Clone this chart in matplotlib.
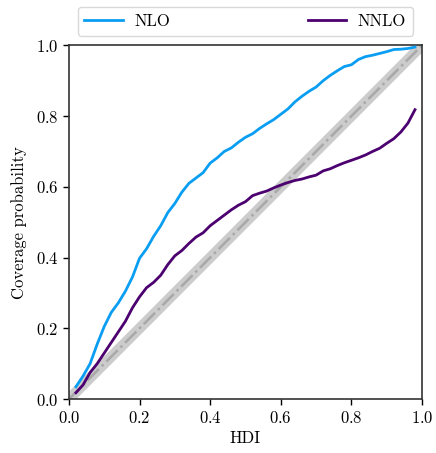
import numpy as np
import matplotlib
matplotlib.use("Agg")
import matplotlib.pyplot as plt

plt.rcParams['font.family'] = 'serif'
plt.rcParams['font.serif'] = ['cmr10', 'DejaVu Serif']
plt.rcParams['mathtext.fontset'] = 'cm'
plt.rcParams['axes.formatter.use_mathtext'] = True

hdi = [0.02, 0.04, 0.06, 0.08, 0.10, 0.12, 0.14, 0.16, 0.18, 0.20,
       0.22, 0.24, 0.26, 0.28, 0.30, 0.32, 0.34, 0.36, 0.38, 0.40,
       0.42, 0.44, 0.46, 0.48, 0.50, 0.52, 0.54, 0.56, 0.58, 0.60,
       0.62, 0.64, 0.66, 0.68, 0.70, 0.72, 0.74, 0.76, 0.78, 0.80,
       0.82, 0.84, 0.86, 0.88, 0.90, 0.92, 0.94, 0.96, 0.98]

nlo = [0.035, 0.065, 0.10, 0.155, 0.205, 0.245, 0.272, 0.305, 0.345, 0.398,
       0.425, 0.46, 0.49, 0.527, 0.553, 0.585, 0.61, 0.625, 0.64, 0.667,
       0.682, 0.70, 0.71, 0.726, 0.74, 0.75, 0.765, 0.778, 0.79, 0.805,
       0.82, 0.84, 0.856, 0.87, 0.882, 0.90, 0.915, 0.928, 0.94, 0.945,
       0.96, 0.968, 0.972, 0.977, 0.982, 0.988, 0.989, 0.991, 0.995]

nnlo = [0.018, 0.04, 0.075, 0.10, 0.13, 0.16, 0.19, 0.22, 0.258, 0.289,
        0.315, 0.33, 0.35, 0.38, 0.405, 0.42, 0.44, 0.458, 0.47, 0.49,
        0.505, 0.52, 0.535, 0.548, 0.558, 0.575, 0.582, 0.588, 0.597, 0.605,
        0.612, 0.618, 0.622, 0.628, 0.633, 0.645, 0.651, 0.66, 0.668, 0.675,
        0.682, 0.69, 0.70, 0.709, 0.723, 0.736, 0.755, 0.78, 0.818]

diag = [0.0, 1.0]

fig = plt.figure(figsize=(4.36, 4.53), dpi=100)
ax = fig.add_axes([0.158, 0.119, 0.81, 0.781])

ax.plot(diag, diag, color='#cccccc', lw=7.6, solid_capstyle='butt', zorder=1)
ax.plot(diag, diag, color='#a8a8a8', lw=1.8, ls='-.', zorder=2)
ax.plot(hdi, nlo, color='#0a9ef2', lw=2.0, label='NLO', zorder=3)
ax.plot(hdi, nnlo, color='#4c0070', lw=2.0, label='NNLO', zorder=3)

ax.set_xlim(0, 1)
ax.set_ylim(0, 1)
ax.set_xticks([0, 0.2, 0.4, 0.6, 0.8, 1.0])
ax.set_yticks([0, 0.2, 0.4, 0.6, 0.8, 1.0])
ax.tick_params(labelsize=12, direction='out', length=4, width=1)
for s in ax.spines.values():
    s.set_color('#333333')
    s.set_linewidth(1.2)
ax.set_xlabel('HDI', fontsize=12)
ax.set_ylabel('Coverage probability', fontsize=12, labelpad=6)

leg = ax.legend(loc='lower left', bbox_to_anchor=(0.025, 1.027, 0.949, 0.083),
                mode='expand', ncol=2, borderaxespad=0, fontsize=12,
                frameon=True, fancybox=True, handlelength=2.3, handletextpad=0.7)
leg.get_frame().set_edgecolor('#d0d0d0')

fig.savefig('out.png', dpi=100)
